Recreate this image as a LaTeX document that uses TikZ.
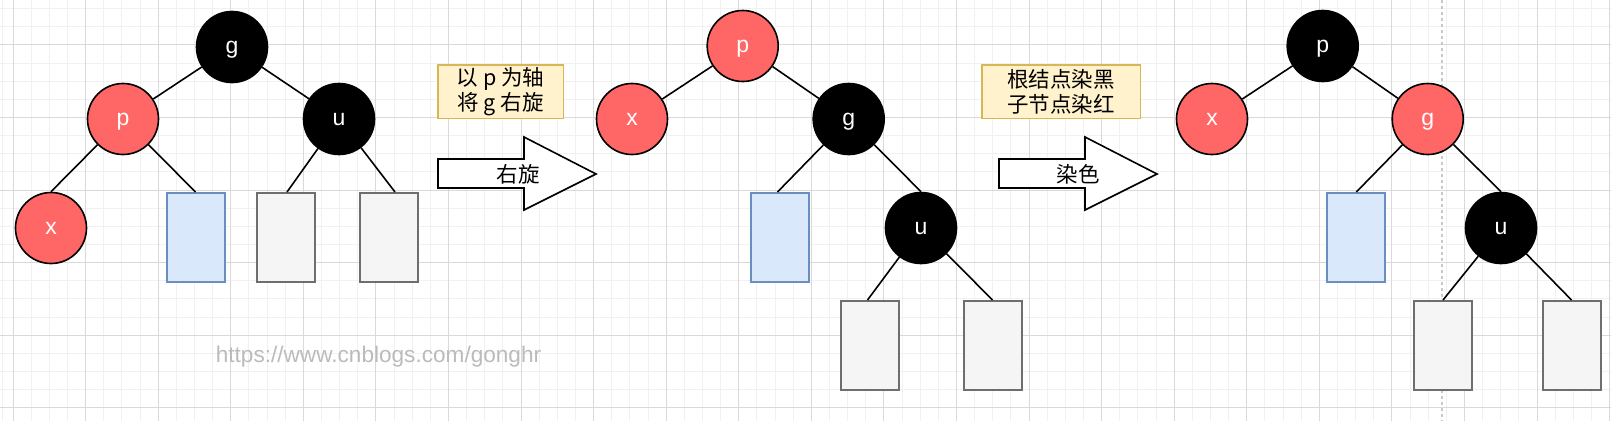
\documentclass[tikz,border=0pt]{standalone}
\usepackage{fontspec}
\setmainfont{Liberation Sans}
\newfontfamily\cjk{Noto Sans CJK SC}
\definecolor{rbred}{HTML}{FF6666}
\definecolor{bluefill}{HTML}{DAE8FC}
\definecolor{bluedraw}{HTML}{6C8EBF}
\definecolor{grayfill}{HTML}{F5F5F5}
\definecolor{graydraw}{HTML}{6E6E6E}
\definecolor{notefill}{HTML}{FFF2CC}
\definecolor{notedraw}{HTML}{D6B656}
\definecolor{gridminor}{HTML}{F1F1F1}
\definecolor{gridmajor}{HTML}{D9D9D9}
\definecolor{pagebreak}{HTML}{C8C8C8}
\definecolor{wmark}{HTML}{BBBBBB}
\begin{document}
\begin{tikzpicture}[x=1pt,y=-1pt,
  rbnode/.style={circle, draw=black, line width=1.6pt, minimum size=71pt, inner sep=0pt,
    text=white, font=\fontsize{23}{26}\selectfont, text height=13pt, text depth=0pt},
  rednode/.style={rbnode, fill=rbred},
  blacknode/.style={rbnode, fill=black},
  leafbox/.style={rectangle, line width=2pt, minimum width=58pt, minimum height=89pt, inner sep=0pt},
  blueleaf/.style={leafbox, draw=bluedraw, fill=bluefill},
  grayleaf/.style={leafbox, draw=graydraw, fill=grayfill},
  notebox/.style={rectangle, draw=notedraw, fill=notefill, line width=1.5pt, minimum height=53.5pt,
    inner sep=0pt, align=center, font=\cjk\fontsize{21.5}{25}\selectfont},
  arrowshape/.style={draw=black, fill=white, line width=1.6pt, line join=miter},
  arrowtext/.style={inner sep=0pt, font=\cjk\fontsize{21.5}{25}\selectfont},
  edge/.style={draw=black, line width=1.6pt}
]
\useasboundingbox (0,0) rectangle (1611,421);
\fill[white] (0,0) rectangle (1611,421);
% grid
\foreach \k in {0,...,88} {
  \pgfmathsetmacro\xx{13+18.143*\k}
  \draw[gridminor, line width=1pt] (\xx,0) -- (\xx,421);
}
\foreach \k in {0,...,22} {
  \pgfmathsetmacro\yy{8.7+18.143*\k}
  \draw[gridminor, line width=1pt] (0,\yy) -- (1611,\yy);
}
\draw[gridminor, line width=1pt] (2.5,0) -- (2.5,421);
\foreach \k in {0,4,...,88} {
  \pgfmathsetmacro\xx{13+18.143*\k}
  \draw[gridmajor, line width=1pt] (\xx,0) -- (\xx,421);
}
\foreach \k in {2,6,...,22} {
  \pgfmathsetmacro\yy{8.7+18.143*\k}
  \draw[gridmajor, line width=1pt] (0,\yy) -- (1611,\yy);
}
% page break line
\draw[pagebreak, line width=1.5pt, dash pattern=on 3pt off 3pt] (1442,0) -- (1442,421);
% watermark
\node[anchor=base, inner sep=0pt, text=wmark, font=\fontsize{22.6}{26}\selectfont] (wm) at (378.5,362) {https://www.cnblogs.com/gonghr};

% ---------- left tree ----------
\node[blacknode] (g1) at (232,47) {g};
\node[rednode] (p1) at (123,119) {p};
\node[blacknode] (u1) at (339,119) {u};
\node[rednode] (x1) at (51,228) {x};
\node[blueleaf] (b1) at (195.5,237.5) {};
\node[grayleaf] (l1) at (285.5,237.5) {};
\node[grayleaf] (r1) at (389,237.5) {};
\draw[edge] (g1) -- (p1);
\draw[edge] (g1) -- (u1);
\draw[edge] (p1) -- (x1.north);
\draw[edge] (p1) -- (b1.north);
\draw[edge] (u1) -- ([xshift=1.5pt]l1.north);
\draw[edge] (u1) -- ([xshift=6pt]r1.north);

% ---------- middle tree ----------
\node[rednode] (p2) at (742.7,46) {p};
\node[rednode] (x2) at (632,119) {x};
\node[blacknode] (g2) at (848.7,119) {g};
\node[blueleaf] (b2) at (779.5,237.5) {};
\node[blacknode] (u2) at (921,228) {u};
\node[grayleaf] (l2) at (869.5,345.5) {};
\node[grayleaf] (r2) at (992.5,345.5) {};
\draw[edge] (p2) -- (x2);
\draw[edge] (p2) -- (g2);
\draw[edge] (g2) -- ([xshift=-2pt]b2.north);
\draw[edge] (g2) -- (u2.north);
\draw[edge] (u2) -- ([xshift=-2pt]l2.north);
\draw[edge] (u2) -- (r2.north);

% ---------- right tree ----------
\node[blacknode] (p3) at (1322.7,46) {p};
\node[rednode] (x3) at (1212,119) {x};
\node[rednode] (g3) at (1427.7,119) {g};
\node[blueleaf] (b3) at (1356.3,237.5) {};
\node[blacknode] (u3) at (1501,228) {u};
\node[grayleaf] (l3) at (1443,345.5) {};
\node[grayleaf] (r3) at (1571.5,345.5) {};
\draw[edge] (p3) -- (x3);
\draw[edge] (p3) -- (g3);
\draw[edge] (g3) -- (b3.north);
\draw[edge] (g3) -- (u3.north);
\draw[edge] (u3) -- (l3.north);
\draw[edge] (u3) -- (r3.north);

% ---------- notes ----------
\node[notebox, minimum width=125.5pt] (n1) at (500.5,91.5) {以 p 为轴\\将 g 右旋};
\node[notebox, minimum width=158.5pt] (n2) at (1061,91.5) {根结点染黑\\子节点染红};

% ---------- arrows ----------
\draw[arrowshape] (438,159) -- (524,159) -- (524,137) -- (596,174) -- (524,210) -- (524,188) -- (438,188) -- cycle;
\node[arrowtext] (a1) at (518,174) {右旋};
\draw[arrowshape] (999,159) -- (1085,159) -- (1085,137) -- (1157,174) -- (1085,210) -- (1085,188) -- (999,188) -- cycle;
\node[arrowtext] (a2) at (1078,174) {染色};
\end{tikzpicture}
\end{document}
